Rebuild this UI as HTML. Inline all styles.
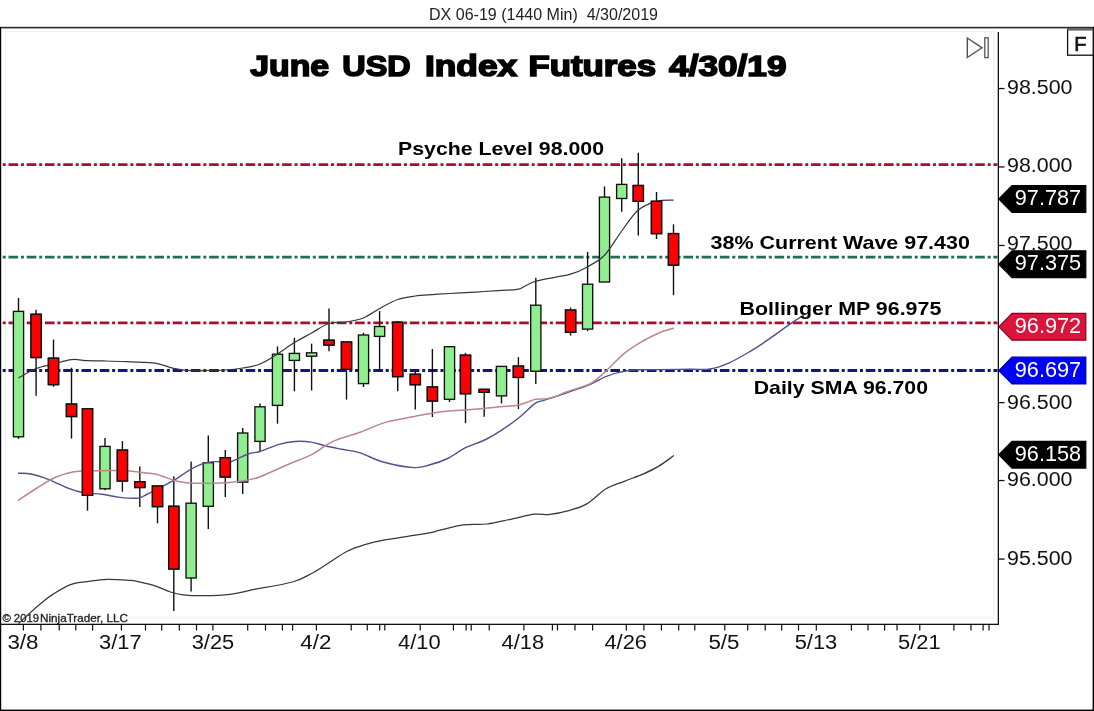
<!DOCTYPE html>
<html><head><meta charset="utf-8"><title>June USD Index Futures 4/30/19</title>
<style>html,body{margin:0;padding:0;background:#fff;width:1094px;height:711px;overflow:hidden}</style>
</head><body>
<svg width="1094" height="711" viewBox="0 0 1094 711" style="position:absolute;left:0;top:0">
<rect x="0" y="0" width="1094" height="711" fill="#ffffff"/>
<text x="429" y="19.6" font-family="'Liberation Sans', Arial, sans-serif" font-size="17" textLength="229" lengthAdjust="spacingAndGlyphs" fill="#222" xml:space="preserve">DX 06-19 (1440 Min)  4/30/2019</text>
<rect x="0" y="26.8" width="1094" height="1.6" fill="#2a2a2a"/>
<rect x="0" y="27" width="1.2" height="684" fill="#000"/>
<rect x="0" y="709.6" width="1094" height="1.4" fill="#000"/>
<rect x="1092.6" y="27" width="1.4" height="684" fill="#000"/>
<rect x="5.5" y="31.3" width="988.5" height="586.4" fill="none" stroke="#eeeeee" stroke-width="1"/>
<rect x="997.7" y="32" width="1.3" height="593" fill="#111"/>
<rect x="0" y="623.7" width="999" height="1.3" fill="#111"/>
<line x1="1" y1="164.7" x2="997.5" y2="164.7" stroke="#a80f2b" stroke-width="2.8" stroke-dasharray="3 2.8 9.6 2.84" stroke-dashoffset="16.54"/>
<line x1="1" y1="257.2" x2="997.5" y2="257.2" stroke="#266b53" stroke-width="2.8" stroke-dasharray="3 2.8 9.6 2.84" stroke-dashoffset="16.54"/>
<line x1="1" y1="322.9" x2="997.5" y2="322.9" stroke="#a80f2b" stroke-width="2.8" stroke-dasharray="3 2.8 9.6 2.84" stroke-dashoffset="16.54"/>
<line x1="1" y1="370.5" x2="997.5" y2="370.5" stroke="#141482" stroke-width="2.8" stroke-dasharray="3 2.8 9.6 2.84" stroke-dashoffset="16.54"/>
<line x1="18.5" y1="297.9" x2="18.5" y2="439" stroke="#111" stroke-width="1.4"/>
<rect x="13.4" y="311.4" width="10.2" height="125.4" fill="#90ee90" stroke="#111" stroke-width="1.35"/>
<line x1="36.1" y1="309.8" x2="36.1" y2="395.8" stroke="#111" stroke-width="1.4"/>
<rect x="31.0" y="314.3" width="10.2" height="43.2" fill="#ff0000" stroke="#111" stroke-width="1.35"/>
<line x1="53.5" y1="339.5" x2="53.5" y2="386.8" stroke="#111" stroke-width="1.4"/>
<rect x="48.4" y="358.2" width="10.2" height="26.4" fill="#ff0000" stroke="#111" stroke-width="1.35"/>
<line x1="71.5" y1="367.7" x2="71.5" y2="438.6" stroke="#111" stroke-width="1.4"/>
<rect x="66.4" y="404.1" width="10.2" height="12.4" fill="#ff0000" stroke="#111" stroke-width="1.35"/>
<line x1="87.5" y1="408.7" x2="87.5" y2="510.7" stroke="#111" stroke-width="1.4"/>
<rect x="82.4" y="408.7" width="10.2" height="86.6" fill="#ff0000" stroke="#111" stroke-width="1.35"/>
<line x1="105" y1="438" x2="105" y2="490.3" stroke="#111" stroke-width="1.4"/>
<rect x="99.9" y="446.4" width="10.2" height="42.4" fill="#90ee90" stroke="#111" stroke-width="1.35"/>
<line x1="122.4" y1="441.1" x2="122.4" y2="491.7" stroke="#111" stroke-width="1.4"/>
<rect x="117.3" y="450.1" width="10.2" height="30.9" fill="#ff0000" stroke="#111" stroke-width="1.35"/>
<line x1="139.8" y1="466.4" x2="139.8" y2="507.1" stroke="#111" stroke-width="1.4"/>
<rect x="134.7" y="481.8" width="10.2" height="5.7" fill="#ff0000" stroke="#111" stroke-width="1.35"/>
<line x1="157.5" y1="486" x2="157.5" y2="523.4" stroke="#111" stroke-width="1.4"/>
<rect x="152.4" y="486.0" width="10.2" height="20.6" fill="#ff0000" stroke="#111" stroke-width="1.35"/>
<line x1="173.8" y1="476.2" x2="173.8" y2="611.1" stroke="#111" stroke-width="1.4"/>
<rect x="168.7" y="506.3" width="10.2" height="62.7" fill="#ff0000" stroke="#111" stroke-width="1.35"/>
<line x1="191.1" y1="461.6" x2="191.1" y2="591.4" stroke="#111" stroke-width="1.4"/>
<rect x="186.0" y="503.2" width="10.2" height="74.8" fill="#90ee90" stroke="#111" stroke-width="1.35"/>
<line x1="208.3" y1="435.5" x2="208.3" y2="529" stroke="#111" stroke-width="1.4"/>
<rect x="203.2" y="462.7" width="10.2" height="43.6" fill="#90ee90" stroke="#111" stroke-width="1.35"/>
<line x1="225.3" y1="450" x2="225.3" y2="497" stroke="#111" stroke-width="1.4"/>
<rect x="220.2" y="457.7" width="10.2" height="19.3" fill="#ff0000" stroke="#111" stroke-width="1.35"/>
<line x1="242.7" y1="427.9" x2="242.7" y2="494" stroke="#111" stroke-width="1.4"/>
<rect x="237.6" y="433.0" width="10.2" height="49.1" fill="#90ee90" stroke="#111" stroke-width="1.35"/>
<line x1="260" y1="403.4" x2="260" y2="451.8" stroke="#111" stroke-width="1.4"/>
<rect x="254.9" y="406.8" width="10.2" height="34.6" fill="#90ee90" stroke="#111" stroke-width="1.35"/>
<line x1="277.5" y1="346.4" x2="277.5" y2="423.7" stroke="#111" stroke-width="1.4"/>
<rect x="272.4" y="354.2" width="10.2" height="51.2" fill="#90ee90" stroke="#111" stroke-width="1.35"/>
<line x1="294.4" y1="337.9" x2="294.4" y2="391.3" stroke="#111" stroke-width="1.4"/>
<rect x="289.3" y="353.4" width="10.2" height="7.0" fill="#90ee90" stroke="#111" stroke-width="1.35"/>
<line x1="311.6" y1="343.6" x2="311.6" y2="390.5" stroke="#111" stroke-width="1.4"/>
<rect x="306.5" y="352.8" width="10.2" height="3.4" fill="#90ee90" stroke="#111" stroke-width="1.35"/>
<line x1="329" y1="308.4" x2="329" y2="351.2" stroke="#111" stroke-width="1.4"/>
<rect x="323.9" y="340.2" width="10.2" height="4.8" fill="#ff0000" stroke="#111" stroke-width="1.35"/>
<line x1="346.5" y1="342" x2="346.5" y2="399.6" stroke="#111" stroke-width="1.4"/>
<rect x="341.4" y="342.0" width="10.2" height="27.3" fill="#ff0000" stroke="#111" stroke-width="1.35"/>
<line x1="363.5" y1="332.7" x2="363.5" y2="387" stroke="#111" stroke-width="1.4"/>
<rect x="358.4" y="335.0" width="10.2" height="48.6" fill="#90ee90" stroke="#111" stroke-width="1.35"/>
<line x1="379.6" y1="311.1" x2="379.6" y2="370.1" stroke="#111" stroke-width="1.4"/>
<rect x="374.5" y="326.5" width="10.2" height="9.9" fill="#90ee90" stroke="#111" stroke-width="1.35"/>
<line x1="397.7" y1="321" x2="397.7" y2="391.2" stroke="#111" stroke-width="1.4"/>
<rect x="392.6" y="322.3" width="10.2" height="54.3" fill="#ff0000" stroke="#111" stroke-width="1.35"/>
<line x1="415.3" y1="371" x2="415.3" y2="409.4" stroke="#111" stroke-width="1.4"/>
<rect x="410.2" y="374.3" width="10.2" height="10.4" fill="#ff0000" stroke="#111" stroke-width="1.35"/>
<line x1="432.4" y1="349" x2="432.4" y2="417" stroke="#111" stroke-width="1.4"/>
<rect x="427.3" y="387.0" width="10.2" height="14.0" fill="#ff0000" stroke="#111" stroke-width="1.35"/>
<line x1="449.5" y1="346.7" x2="449.5" y2="402" stroke="#111" stroke-width="1.4"/>
<rect x="444.4" y="346.7" width="10.2" height="52.6" fill="#90ee90" stroke="#111" stroke-width="1.35"/>
<line x1="465.5" y1="352.9" x2="465.5" y2="423.2" stroke="#111" stroke-width="1.4"/>
<rect x="460.4" y="355.2" width="10.2" height="38.5" fill="#ff0000" stroke="#111" stroke-width="1.35"/>
<line x1="484.2" y1="389.4" x2="484.2" y2="416.7" stroke="#111" stroke-width="1.4"/>
<rect x="479.1" y="389.4" width="10.2" height="2.9" fill="#ff0000" stroke="#111" stroke-width="1.35"/>
<line x1="501.5" y1="366.4" x2="501.5" y2="403.5" stroke="#111" stroke-width="1.4"/>
<rect x="496.4" y="366.4" width="10.2" height="29.5" fill="#90ee90" stroke="#111" stroke-width="1.35"/>
<line x1="518.4" y1="357.1" x2="518.4" y2="409.1" stroke="#111" stroke-width="1.4"/>
<rect x="513.3" y="366.1" width="10.2" height="11.3" fill="#ff0000" stroke="#111" stroke-width="1.35"/>
<line x1="535.8" y1="277.8" x2="535.8" y2="384" stroke="#111" stroke-width="1.4"/>
<rect x="530.7" y="305.2" width="10.2" height="66.0" fill="#90ee90" stroke="#111" stroke-width="1.35"/>
<line x1="570.6" y1="307.5" x2="570.6" y2="335.6" stroke="#111" stroke-width="1.4"/>
<rect x="565.5" y="310.1" width="10.2" height="22.2" fill="#ff0000" stroke="#111" stroke-width="1.35"/>
<line x1="587.6" y1="251.9" x2="587.6" y2="331.2" stroke="#111" stroke-width="1.4"/>
<rect x="582.5" y="284.2" width="10.2" height="44.9" fill="#90ee90" stroke="#111" stroke-width="1.35"/>
<line x1="604.5" y1="186.4" x2="604.5" y2="282" stroke="#111" stroke-width="1.4"/>
<rect x="599.4" y="197.1" width="10.2" height="84.9" fill="#90ee90" stroke="#111" stroke-width="1.35"/>
<line x1="621.7" y1="158.3" x2="621.7" y2="211.7" stroke="#111" stroke-width="1.4"/>
<rect x="616.6" y="184.4" width="10.2" height="14.1" fill="#90ee90" stroke="#111" stroke-width="1.35"/>
<line x1="638.3" y1="152.7" x2="638.3" y2="235.6" stroke="#111" stroke-width="1.4"/>
<rect x="633.2" y="185.5" width="10.2" height="15.8" fill="#ff0000" stroke="#111" stroke-width="1.35"/>
<line x1="656.5" y1="192" x2="656.5" y2="239" stroke="#111" stroke-width="1.4"/>
<rect x="651.4" y="201.3" width="10.2" height="32.3" fill="#ff0000" stroke="#111" stroke-width="1.35"/>
<line x1="673.5" y1="224.3" x2="673.5" y2="295.2" stroke="#111" stroke-width="1.4"/>
<rect x="668.4" y="233.6" width="10.2" height="31.5" fill="#ff0000" stroke="#111" stroke-width="1.35"/>
<path d="M18.0,473.3 C20.2,473.4 25.8,472.9 31.0,474.0 C36.2,475.1 43.3,477.4 49.5,479.8 C55.7,482.2 62.3,486.0 68.0,488.2 C73.7,490.4 77.8,491.8 83.5,492.8 C89.2,493.8 95.9,493.5 102.0,494.3 C108.1,495.1 114.0,496.8 120.0,497.4 C126.0,498.0 133.6,498.6 138.0,498.1 C142.4,497.6 143.0,496.2 146.5,494.5 C150.0,492.8 154.5,490.4 159.2,488.0 C163.9,485.6 169.7,482.8 174.6,479.9 C179.5,477.0 184.0,473.3 188.7,470.6 C193.4,467.9 198.0,465.1 202.7,463.6 C207.4,462.1 212.2,461.9 216.8,461.6 C221.4,461.3 224.8,463.3 230.0,462.0 C235.2,460.7 243.0,455.8 248.0,454.0 C253.0,452.2 254.9,453.1 260.0,451.5 C265.1,449.9 272.5,446.4 278.3,444.7 C284.1,443.0 289.2,441.9 294.7,441.5 C300.2,441.1 306.0,441.4 311.2,442.1 C316.4,442.9 320.6,444.8 325.8,446.0 C331.0,447.2 336.6,448.2 342.3,449.3 C348.0,450.4 353.0,450.7 360.0,452.9 C367.0,455.1 375.1,459.9 384.2,462.3 C393.2,464.8 406.7,467.2 414.3,467.6 C421.9,468.0 424.4,466.3 430.0,464.8 C435.6,463.3 442.0,461.2 447.7,458.5 C453.4,455.8 457.9,451.6 464.2,448.4 C470.5,445.2 479.6,442.5 485.7,439.5 C491.8,436.5 495.4,434.2 500.9,430.6 C506.4,427.0 512.9,422.5 518.6,418.0 C524.3,413.5 530.9,406.3 535.1,403.4 C539.3,400.4 539.8,401.7 543.9,400.3 C548.0,398.9 555.9,396.6 560.0,395.2 C564.1,393.8 563.6,393.9 568.6,392.1 C573.6,390.3 584.1,386.9 590.3,384.3 C596.5,381.7 600.6,378.7 605.7,376.6 C610.9,374.5 615.5,373.0 621.2,371.9 C626.9,370.8 628.5,370.2 640.0,369.8 C651.5,369.4 678.3,369.4 690.0,369.3 C701.7,369.2 703.5,370.1 710.0,369.0 C716.5,367.9 722.5,365.8 729.2,362.8 C735.9,359.9 743.4,355.4 750.3,351.3 C757.2,347.2 764.0,342.6 770.4,338.2 C776.8,333.8 783.5,328.6 788.5,325.1 C793.5,321.6 798.0,318.7 800.6,317.1 C803.2,315.5 803.4,315.6 804.0,315.3" fill="none" stroke="#50508f" stroke-width="1.4"/>
<path d="M18.5,378.0 C21.4,376.4 30.3,370.8 36.1,368.5 C41.9,366.2 47.6,365.5 53.5,364.0 C59.4,362.5 65.8,360.2 71.5,359.6 C77.2,359.0 81.9,360.4 87.5,360.6 C93.1,360.8 99.2,360.9 105.0,361.0 C110.8,361.1 116.6,361.3 122.4,361.5 C128.2,361.7 134.0,361.8 139.8,362.2 C145.7,362.6 151.8,362.6 157.5,363.6 C163.2,364.6 168.2,367.1 173.8,368.3 C179.4,369.5 185.3,370.2 191.1,370.6 C196.8,371.0 202.6,370.6 208.3,370.5 C214.0,370.4 219.6,370.4 225.3,370.0 C231.0,369.6 236.9,369.0 242.7,368.0 C248.5,367.0 254.2,366.3 260.0,364.0 C265.8,361.7 271.8,357.6 277.5,354.0 C283.2,350.4 288.7,346.0 294.4,342.5 C300.1,339.0 305.8,336.2 311.6,333.0 C317.4,329.8 323.2,325.3 329.0,323.5 C334.8,321.7 340.8,322.9 346.5,322.0 C352.2,321.1 358.0,320.2 363.5,318.0 C369.0,315.8 373.9,311.6 379.6,308.5 C385.3,305.4 391.8,301.6 397.7,299.5 C403.6,297.4 409.5,296.8 415.3,296.0 C421.1,295.2 426.7,295.0 432.4,294.6 C438.1,294.2 444.0,293.8 449.5,293.5 C455.0,293.2 459.7,292.9 465.5,292.6 C471.3,292.3 478.2,291.9 484.2,291.5 C490.2,291.1 495.8,290.7 501.5,290.3 C507.2,289.9 512.7,290.7 518.4,289.2 C524.1,287.7 527.1,283.7 535.8,281.2 C544.5,278.7 562.0,276.6 570.6,274.2 C579.2,271.8 582.0,269.8 587.6,266.7 C593.2,263.6 598.8,261.2 604.5,255.3 C610.2,249.4 616.1,238.6 621.7,231.0 C627.3,223.4 632.5,214.9 638.3,210.0 C644.1,205.1 650.6,203.0 656.5,201.3 C662.4,199.7 670.7,200.3 673.5,200.1" fill="none" stroke="#383838" stroke-width="1.25"/>
<path d="M18.5,624.0 C19.9,622.6 22.8,619.4 26.7,615.9 C30.6,612.4 37.1,606.5 41.6,602.8 C46.1,599.1 48.5,597.0 53.5,593.9 C58.5,590.8 65.4,586.5 71.3,584.4 C77.2,582.3 83.1,582.2 89.1,581.4 C95.0,580.5 100.2,579.5 107.0,579.3 C113.8,579.1 124.8,580.0 130.0,580.4 C135.2,580.8 133.8,580.7 138.0,581.6 C142.2,582.5 149.6,584.1 155.0,585.8 C160.4,587.5 165.7,590.5 170.4,592.0 C175.1,593.5 177.6,594.2 183.0,594.8 C188.4,595.4 194.9,595.8 202.7,595.7 C210.5,595.6 221.6,595.3 230.0,594.3 C238.4,593.3 242.5,591.8 252.9,589.7 C263.3,587.7 282.5,584.8 292.4,582.0 C302.3,579.2 305.9,576.5 312.1,573.2 C318.3,569.9 323.9,565.9 329.7,562.3 C335.5,558.6 341.3,554.2 347.2,551.3 C353.1,548.4 358.9,546.5 364.8,544.7 C370.7,542.9 375.4,541.6 382.4,540.3 C389.3,538.9 398.5,537.9 406.5,536.6 C414.5,535.3 425.0,533.8 430.6,532.7 C436.2,531.6 434.5,531.5 440.0,530.2 C445.5,528.9 455.7,525.8 463.6,524.8 C471.5,523.8 479.3,524.9 487.2,524.0 C495.1,523.1 502.9,520.9 510.8,519.3 C518.7,517.7 528.0,515.0 534.5,514.2 C541.0,513.4 544.3,515.0 550.0,514.4 C555.7,513.8 562.4,512.5 568.6,510.7 C574.8,508.9 581.0,507.2 587.2,503.6 C593.4,500.0 599.5,492.7 605.7,489.0 C611.9,485.3 618.1,483.8 624.3,481.3 C630.5,478.8 637.2,476.6 642.9,474.1 C648.6,471.6 653.2,469.5 658.4,466.4 C663.6,463.3 671.3,457.4 673.9,455.6" fill="none" stroke="#383838" stroke-width="1.25"/>
<path d="M18.0,500.5 C21.2,498.4 30.7,491.9 37.0,488.0 C43.3,484.1 49.5,480.0 55.7,477.3 C61.9,474.6 67.8,472.9 74.0,471.8 C80.2,470.7 85.1,471.0 92.8,470.8 C100.5,470.6 112.5,470.3 120.0,470.5 C127.5,470.7 132.2,471.4 138.0,472.0 C143.8,472.6 150.3,473.1 155.0,474.0 C159.7,474.9 162.4,476.4 166.2,477.6 C169.9,478.8 172.8,480.4 177.5,481.3 C182.2,482.2 185.6,483.0 194.3,483.2 C203.1,483.4 221.1,482.9 230.0,482.4 C238.9,481.8 243.0,480.8 248.0,479.9 C253.0,478.9 253.4,479.2 260.0,476.7 C266.6,474.2 278.6,468.6 287.4,464.8 C296.2,461.0 306.9,456.9 313.0,453.8 C319.1,450.8 320.2,448.8 324.0,446.5 C327.8,444.2 329.9,442.5 335.9,440.1 C341.9,437.7 351.6,435.3 360.0,432.3 C368.4,429.3 377.1,424.7 386.2,422.1 C395.2,419.5 405.3,418.2 414.3,416.5 C423.3,414.8 431.0,413.0 440.0,411.9 C449.0,410.8 458.7,410.5 468.1,409.7 C477.5,408.9 487.8,408.0 496.2,407.2 C504.6,406.4 512.1,406.2 518.7,404.9 C525.3,403.6 530.4,400.4 535.6,399.3 C540.8,398.2 544.5,399.7 550.0,398.3 C555.5,396.9 561.9,393.5 568.6,391.1 C575.3,388.7 584.1,387.0 590.3,383.7 C596.5,380.4 600.0,376.4 605.7,371.3 C611.4,366.2 618.1,358.4 624.3,353.4 C630.5,348.3 637.2,344.4 642.9,341.0 C648.6,337.6 653.2,335.4 658.4,333.2 C663.6,331.0 671.3,328.9 673.9,328.0" fill="none" stroke="#bd858e" stroke-width="1.5"/>
<rect x="31.0" y="314.3" width="10.2" height="43.2" fill="#ff0000" stroke="#111" stroke-width="1.35"/>
<rect x="48.4" y="358.2" width="10.2" height="26.4" fill="#ff0000" stroke="#111" stroke-width="1.35"/>
<rect x="66.4" y="404.1" width="10.2" height="12.4" fill="#ff0000" stroke="#111" stroke-width="1.35"/>
<rect x="82.4" y="408.7" width="10.2" height="86.6" fill="#ff0000" stroke="#111" stroke-width="1.35"/>
<rect x="117.3" y="450.1" width="10.2" height="30.9" fill="#ff0000" stroke="#111" stroke-width="1.35"/>
<rect x="134.7" y="481.8" width="10.2" height="5.7" fill="#ff0000" stroke="#111" stroke-width="1.35"/>
<rect x="152.4" y="486.0" width="10.2" height="20.6" fill="#ff0000" stroke="#111" stroke-width="1.35"/>
<rect x="168.7" y="506.3" width="10.2" height="62.7" fill="#ff0000" stroke="#111" stroke-width="1.35"/>
<rect x="220.2" y="457.7" width="10.2" height="19.3" fill="#ff0000" stroke="#111" stroke-width="1.35"/>
<rect x="323.9" y="340.2" width="10.2" height="4.8" fill="#ff0000" stroke="#111" stroke-width="1.35"/>
<rect x="341.4" y="342.0" width="10.2" height="27.3" fill="#ff0000" stroke="#111" stroke-width="1.35"/>
<rect x="392.6" y="322.3" width="10.2" height="54.3" fill="#ff0000" stroke="#111" stroke-width="1.35"/>
<rect x="410.2" y="374.3" width="10.2" height="10.4" fill="#ff0000" stroke="#111" stroke-width="1.35"/>
<rect x="427.3" y="387.0" width="10.2" height="14.0" fill="#ff0000" stroke="#111" stroke-width="1.35"/>
<rect x="460.4" y="355.2" width="10.2" height="38.5" fill="#ff0000" stroke="#111" stroke-width="1.35"/>
<rect x="479.1" y="389.4" width="10.2" height="2.9" fill="#ff0000" stroke="#111" stroke-width="1.35"/>
<rect x="513.3" y="366.1" width="10.2" height="11.3" fill="#ff0000" stroke="#111" stroke-width="1.35"/>
<rect x="565.5" y="310.1" width="10.2" height="22.2" fill="#ff0000" stroke="#111" stroke-width="1.35"/>
<rect x="633.2" y="185.5" width="10.2" height="15.8" fill="#ff0000" stroke="#111" stroke-width="1.35"/>
<rect x="651.4" y="201.3" width="10.2" height="32.3" fill="#ff0000" stroke="#111" stroke-width="1.35"/>
<rect x="668.4" y="233.6" width="10.2" height="31.5" fill="#ff0000" stroke="#111" stroke-width="1.35"/>
<text x="250.20" y="76.2" font-family="'Liberation Sans', Arial, sans-serif" font-weight="bold" font-size="29.5" textLength="78.90" lengthAdjust="spacingAndGlyphs" fill="#000" stroke="#000" stroke-width="1.6">June</text>
<text x="342.30" y="76.2" font-family="'Liberation Sans', Arial, sans-serif" font-weight="bold" font-size="29.5" textLength="68.40" lengthAdjust="spacingAndGlyphs" fill="#000" stroke="#000" stroke-width="1.6">USD</text>
<text x="425.00" y="76.2" font-family="'Liberation Sans', Arial, sans-serif" font-weight="bold" font-size="29.5" textLength="92.20" lengthAdjust="spacingAndGlyphs" fill="#000" stroke="#000" stroke-width="1.6">Index</text>
<text x="528.40" y="76.2" font-family="'Liberation Sans', Arial, sans-serif" font-weight="bold" font-size="29.5" textLength="127.60" lengthAdjust="spacingAndGlyphs" fill="#000" stroke="#000" stroke-width="1.6">Futures</text>
<text x="669.10" y="76.2" font-family="'Liberation Sans', Arial, sans-serif" font-weight="bold" font-size="29.5" textLength="117.40" lengthAdjust="spacingAndGlyphs" fill="#000" stroke="#000" stroke-width="1.6">4/30/19</text>
<text x="398" y="155.2" font-family="'Liberation Sans', Arial, sans-serif" font-weight="bold" font-size="19" textLength="206" lengthAdjust="spacingAndGlyphs" fill="#000">Psyche Level 98.000</text>
<text x="710.6" y="248.9" font-family="'Liberation Sans', Arial, sans-serif" font-weight="bold" font-size="19" textLength="259.3" lengthAdjust="spacingAndGlyphs" fill="#000">38% Current Wave 97.430</text>
<text x="739.5" y="314.8" font-family="'Liberation Sans', Arial, sans-serif" font-weight="bold" font-size="19" textLength="201.8" lengthAdjust="spacingAndGlyphs" fill="#000">Bollinger MP 96.975</text>
<text x="753.7" y="393.8" font-family="'Liberation Sans', Arial, sans-serif" font-weight="bold" font-size="19" textLength="174.3" lengthAdjust="spacingAndGlyphs" fill="#000">Daily SMA 96.700</text>
<text x="2.4" y="621.8" font-family="'Liberation Sans', Arial, sans-serif" font-size="11.5" textLength="36.6" lengthAdjust="spacingAndGlyphs" fill="#222" stroke="#222" stroke-width="0.3" xml:space="preserve">© 2019</text>
<text x="40.0" y="621.8" font-family="'Liberation Sans', Arial, sans-serif" font-size="11.5" textLength="88" lengthAdjust="spacingAndGlyphs" fill="#222" stroke="#222" stroke-width="0.3">NinjaTrader, LLC</text>
<rect x="22.8" y="624" width="1.2" height="6.5" fill="#111"/>
<rect x="40.3" y="624" width="1.2" height="6.5" fill="#111"/>
<rect x="58.6" y="624" width="1.2" height="6.5" fill="#111"/>
<rect x="75.2" y="624" width="1.2" height="6.5" fill="#111"/>
<rect x="92.0" y="624" width="1.2" height="6.5" fill="#111"/>
<rect x="120.8" y="624" width="1.2" height="6.5" fill="#111"/>
<rect x="144.9" y="624" width="1.2" height="6.5" fill="#111"/>
<rect x="161.1" y="624" width="1.2" height="6.5" fill="#111"/>
<rect x="178.7" y="624" width="1.2" height="6.5" fill="#111"/>
<rect x="195.9" y="624" width="1.2" height="6.5" fill="#111"/>
<rect x="212.3" y="624" width="1.2" height="6.5" fill="#111"/>
<rect x="247.1" y="624" width="1.2" height="6.5" fill="#111"/>
<rect x="264.9" y="624" width="1.2" height="6.5" fill="#111"/>
<rect x="281.8" y="624" width="1.2" height="6.5" fill="#111"/>
<rect x="292.0" y="624" width="1.2" height="6.5" fill="#111"/>
<rect x="315.8" y="624" width="1.2" height="6.5" fill="#111"/>
<rect x="350.6" y="624" width="1.2" height="6.5" fill="#111"/>
<rect x="366.7" y="624" width="1.2" height="6.5" fill="#111"/>
<rect x="379.1" y="624" width="1.2" height="6.5" fill="#111"/>
<rect x="384.2" y="624" width="1.2" height="6.5" fill="#111"/>
<rect x="419.6" y="624" width="1.2" height="6.5" fill="#111"/>
<rect x="452.8" y="624" width="1.2" height="6.5" fill="#111"/>
<rect x="465.5" y="624" width="1.2" height="6.5" fill="#111"/>
<rect x="470.6" y="624" width="1.2" height="6.5" fill="#111"/>
<rect x="488.6" y="624" width="1.2" height="6.5" fill="#111"/>
<rect x="523.3" y="624" width="1.2" height="6.5" fill="#111"/>
<rect x="551.8" y="624" width="1.2" height="6.5" fill="#111"/>
<rect x="556.9" y="624" width="1.2" height="6.5" fill="#111"/>
<rect x="574.4" y="624" width="1.2" height="6.5" fill="#111"/>
<rect x="592.0" y="624" width="1.2" height="6.5" fill="#111"/>
<rect x="625.7" y="624" width="1.2" height="6.5" fill="#111"/>
<rect x="643.3" y="624" width="1.2" height="6.5" fill="#111"/>
<rect x="660.8" y="624" width="1.2" height="6.5" fill="#111"/>
<rect x="678.1" y="624" width="1.2" height="6.5" fill="#111"/>
<rect x="694.2" y="624" width="1.2" height="6.5" fill="#111"/>
<rect x="724.2" y="624" width="1.2" height="6.5" fill="#111"/>
<rect x="747.1" y="624" width="1.2" height="6.5" fill="#111"/>
<rect x="764.6" y="624" width="1.2" height="6.5" fill="#111"/>
<rect x="781.1" y="624" width="1.2" height="6.5" fill="#111"/>
<rect x="797.9" y="624" width="1.2" height="6.5" fill="#111"/>
<rect x="815.7" y="624" width="1.2" height="6.5" fill="#111"/>
<rect x="850.8" y="624" width="1.2" height="6.5" fill="#111"/>
<rect x="867.4" y="624" width="1.2" height="6.5" fill="#111"/>
<rect x="884.0" y="624" width="1.2" height="6.5" fill="#111"/>
<rect x="896.4" y="624" width="1.2" height="6.5" fill="#111"/>
<rect x="919.2" y="624" width="1.2" height="6.5" fill="#111"/>
<rect x="953.3" y="624" width="1.2" height="6.5" fill="#111"/>
<rect x="970.4" y="624" width="1.2" height="6.5" fill="#111"/>
<rect x="982.5" y="624" width="1.2" height="6.5" fill="#111"/>
<rect x="988.4" y="624" width="1.2" height="6.5" fill="#111"/>
<text x="23.0" y="648.6" font-family="'Liberation Sans', Arial, sans-serif" font-size="20" text-anchor="middle" textLength="31.1" lengthAdjust="spacingAndGlyphs" fill="#111">3/8</text>
<text x="120.3" y="648.6" font-family="'Liberation Sans', Arial, sans-serif" font-size="20" text-anchor="middle" textLength="42.6" lengthAdjust="spacingAndGlyphs" fill="#111">3/17</text>
<text x="213" y="648.6" font-family="'Liberation Sans', Arial, sans-serif" font-size="20" text-anchor="middle" textLength="42.6" lengthAdjust="spacingAndGlyphs" fill="#111">3/25</text>
<text x="315.9" y="648.6" font-family="'Liberation Sans', Arial, sans-serif" font-size="20" text-anchor="middle" textLength="31.1" lengthAdjust="spacingAndGlyphs" fill="#111">4/2</text>
<text x="419.4" y="648.6" font-family="'Liberation Sans', Arial, sans-serif" font-size="20" text-anchor="middle" textLength="42.6" lengthAdjust="spacingAndGlyphs" fill="#111">4/10</text>
<text x="522.8" y="648.6" font-family="'Liberation Sans', Arial, sans-serif" font-size="20" text-anchor="middle" textLength="42.6" lengthAdjust="spacingAndGlyphs" fill="#111">4/18</text>
<text x="625.7" y="648.6" font-family="'Liberation Sans', Arial, sans-serif" font-size="20" text-anchor="middle" textLength="42.6" lengthAdjust="spacingAndGlyphs" fill="#111">4/26</text>
<text x="724" y="648.6" font-family="'Liberation Sans', Arial, sans-serif" font-size="20" text-anchor="middle" textLength="31.1" lengthAdjust="spacingAndGlyphs" fill="#111">5/5</text>
<text x="816" y="648.6" font-family="'Liberation Sans', Arial, sans-serif" font-size="20" text-anchor="middle" textLength="42.6" lengthAdjust="spacingAndGlyphs" fill="#111">5/13</text>
<text x="919.3" y="648.6" font-family="'Liberation Sans', Arial, sans-serif" font-size="20" text-anchor="middle" textLength="42.6" lengthAdjust="spacingAndGlyphs" fill="#111">5/21</text>
<rect x="998" y="87.9" width="6.5" height="1.3" fill="#111"/>
<text x="1007" y="93.8" font-family="'Liberation Sans', Arial, sans-serif" font-size="20" textLength="65.5" lengthAdjust="spacingAndGlyphs" fill="#111">98.500</text>
<rect x="998" y="166.3" width="6.5" height="1.3" fill="#111"/>
<text x="1007" y="172.1" font-family="'Liberation Sans', Arial, sans-serif" font-size="20" textLength="65.5" lengthAdjust="spacingAndGlyphs" fill="#111">98.000</text>
<rect x="998" y="244.8" width="6.5" height="1.3" fill="#111"/>
<text x="1007" y="250.2" font-family="'Liberation Sans', Arial, sans-serif" font-size="20" textLength="65.5" lengthAdjust="spacingAndGlyphs" fill="#111">97.500</text>
<rect x="998" y="402.0" width="6.5" height="1.3" fill="#111"/>
<text x="1007" y="408.5" font-family="'Liberation Sans', Arial, sans-serif" font-size="20" textLength="65.5" lengthAdjust="spacingAndGlyphs" fill="#111">96.500</text>
<rect x="998" y="479.9" width="6.5" height="1.3" fill="#111"/>
<text x="1007" y="486.3" font-family="'Liberation Sans', Arial, sans-serif" font-size="20" textLength="65.5" lengthAdjust="spacingAndGlyphs" fill="#111">96.000</text>
<rect x="998" y="558.4" width="6.5" height="1.3" fill="#111"/>
<text x="1007" y="564.5" font-family="'Liberation Sans', Arial, sans-serif" font-size="20" textLength="65.5" lengthAdjust="spacingAndGlyphs" fill="#111">95.500</text>
<polygon points="998.8,198.9 1012,185.5 1085.8,185.5 1085.8,212.3 1012,212.3" fill="#000000" stroke="#000000" stroke-width="1.2"/>
<text x="1014.8" y="204.8" font-family="'Liberation Sans', Arial, sans-serif" font-size="21.3" textLength="66.3" lengthAdjust="spacingAndGlyphs" fill="#fff">97.787</text>
<polygon points="998.8,264.2 1012,250.8 1085.8,250.8 1085.8,277.6 1012,277.6" fill="#000000" stroke="#000000" stroke-width="1.2"/>
<text x="1014.8" y="270.1" font-family="'Liberation Sans', Arial, sans-serif" font-size="21.3" textLength="66.3" lengthAdjust="spacingAndGlyphs" fill="#fff">97.375</text>
<polygon points="998.8,326.8 1012,313.4 1085.8,313.4 1085.8,340.2 1012,340.2" fill="#dc143c" stroke="#7a0a1e" stroke-width="1.2"/>
<text x="1014.8" y="332.7" font-family="'Liberation Sans', Arial, sans-serif" font-size="21.3" textLength="66.3" lengthAdjust="spacingAndGlyphs" fill="#fff">96.972</text>
<polygon points="998.8,370.6 1012,357.2 1085.8,357.2 1085.8,384.0 1012,384.0" fill="#0000ff" stroke="#00008b" stroke-width="1.2"/>
<text x="1014.8" y="376.5" font-family="'Liberation Sans', Arial, sans-serif" font-size="21.3" textLength="66.3" lengthAdjust="spacingAndGlyphs" fill="#fff">96.697</text>
<polygon points="998.8,454.7 1012,441.3 1085.8,441.3 1085.8,468.1 1012,468.1" fill="#000000" stroke="#000000" stroke-width="1.2"/>
<text x="1014.8" y="460.6" font-family="'Liberation Sans', Arial, sans-serif" font-size="21.3" textLength="66.3" lengthAdjust="spacingAndGlyphs" fill="#fff">96.158</text>
<rect x="1067.6" y="29.2" width="25.6" height="26" fill="#fff" stroke="#111" stroke-width="1.3"/>
<rect x="1067.6" y="28.4" width="25.6" height="2.2" fill="#666"/>
<text x="1074.3" y="50.5" font-family="'Liberation Sans', Arial, sans-serif" font-size="20" fill="#111" stroke="#111" stroke-width="0.7">F</text>
<polygon points="967.3,38 982,47.8 967.3,57.5" fill="none" stroke="#555" stroke-width="1.4"/>
<rect x="984.8" y="37.8" width="3.4" height="19.8" fill="none" stroke="#555" stroke-width="1.3"/>
</svg>
</body></html>
